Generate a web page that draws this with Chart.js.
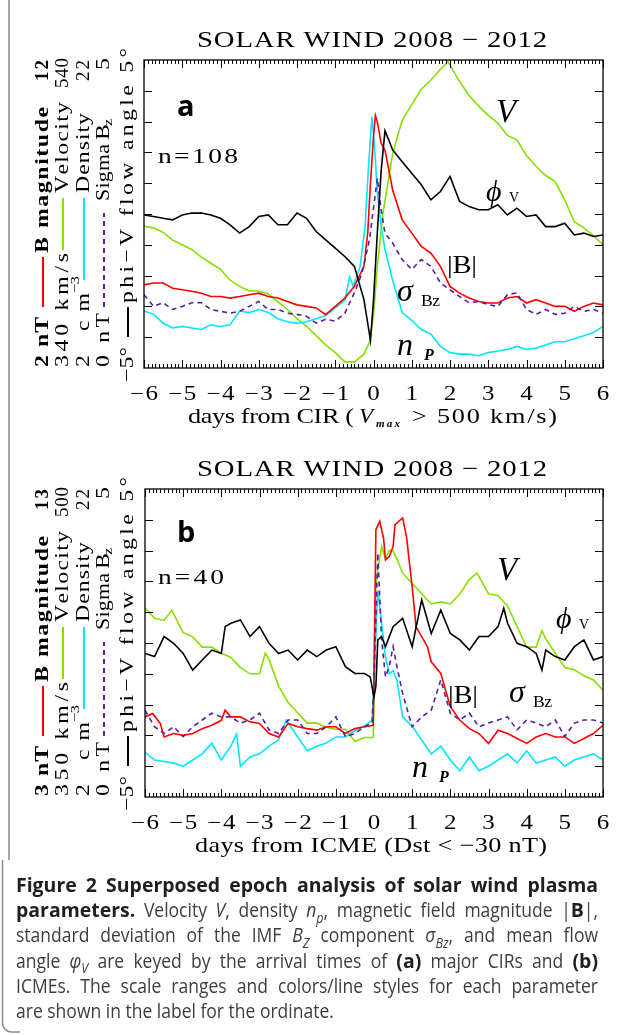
<!DOCTYPE html>
<html><head><meta charset="utf-8">
<script src="https://cdn.jsdelivr.net/npm/chart.js@4.4.1/dist/chart.umd.min.js"></script>
<style>
html,body{margin:0;padding:0;background:#fff;}
#wrap{position:relative;width:630px;height:1035px;overflow:hidden;background:#fff;}
canvas{position:absolute;left:0;}
</style></head><body>
<div id="wrap">
<canvas id="cA" width="630" height="429" style="top:0"></canvas>
<canvas id="cB" width="630" height="431" style="top:429px"></canvas>
<canvas id="cC" width="630" height="175" style="top:860px"></canvas>
</div>
<script>
// ---------------- DATA ----------------
const dayTicks = [-6,-5,-4,-3,-2,-1,0,1,2,3,4,5,6];

// Panel a : CIRs
const cirPhiDays = [-6,-5.75,-5.5,-5.25,-5,-4.75,-4.5,-4.25,-4,-3.75,-3.5,-3.25,-3,-2.75,-2.5,-2.25,-2,-1.75,-1.5,-1.25,-1,-0.75,-0.5,-0.25,-0.08,0,0.1,0.2,0.3,0.4,0.5,0.75,1,1.25,1.5,1.75,2,2.25,2.5,2.75,3,3.25,3.5,3.75,4,4.25,4.5,4.75,5,5.25,5.5,5.75,6];
const cirPhi = [-0.03,-0.08,-0.14,-0.19,-0.03,0.03,0.03,-0.03,-0.14,-0.35,-0.62,-0.41,-0.08,-0.03,-0.35,-0.35,0.03,-0.14,-0.57,-0.84,-1.11,-1.38,-1.7,-2.78,-4.1,-2.8,-0.6,1.4,2.7,2.4,2.08,1.7,1.32,0.95,0.46,0.73,1.22,0.41,0.24,0.14,0.14,0.3,-0.03,0.19,-0.08,-0.03,-0.41,-0.41,-0.3,-0.68,-0.62,-0.73,-0.68];
const cirVDays = [-6,-5.75,-5.5,-5.25,-5,-4.75,-4.5,-4.25,-4,-3.75,-3.5,-3.25,-3,-2.75,-2.5,-2.25,-2,-1.75,-1.5,-1.25,-1,-0.75,-0.5,-0.25,-0.1,0,0.1,0.25,0.5,0.75,1,1.25,1.5,1.75,1.95,2.25,2.5,2.75,3,3.25,3.5,3.75,4,4.25,4.5,4.75,5,5.25,5.5,5.75,6];
const cirV = [432,431,428,423,420,417,412,408,404,397,393,390,390,388,383,378,372,367,361,355,350,344,344,349,357,374,406,441,479,501,511,521,527,534,539,526,517,510,504,499,491,488,478,471,465,461,449,435,431,426,420];
const cirBDays = [-6,-5.75,-5.5,-5.25,-5,-4.75,-4.5,-4.25,-4,-3.75,-3.5,-3.25,-3,-2.75,-2.5,-2.25,-2,-1.75,-1.5,-1.25,-1,-0.75,-0.5,-0.25,-0.15,-0.08,0,0.05,0.1,0.2,0.3,0.4,0.5,0.75,1,1.25,1.5,1.75,2,2.25,2.5,2.75,3,3.25,3.5,3.75,4,4.25,4.5,4.75,5,5.25,5.5,5.75,6];
const cirB = [4.7,4.76,4.76,4.59,4.54,4.49,4.43,4.32,4.32,4.27,4.32,4.38,4.43,4.32,4.27,4.16,4.05,4.0,3.95,3.73,4.0,4.27,4.65,5.3,6.4,8.0,9.5,10.2,10.0,9.3,9.08,8.43,7.78,6.81,6.38,5.95,5.73,5.3,4.65,4.43,4.27,4.16,4.11,4.11,4.27,4.32,4.11,4.22,4.11,4.0,4.0,3.84,4.0,4.11,4.05];
const cirNDays = [-6,-5.75,-5.5,-5.25,-5,-4.75,-4.5,-4.25,-4,-3.75,-3.5,-3.25,-3,-2.75,-2.5,-2.25,-2,-1.75,-1.5,-1.25,-1,-0.75,-0.62,-0.53,-0.35,-0.22,-0.13,-0.04,0,0.05,0.1,0.2,0.3,0.5,0.75,1,1.25,1.5,1.75,2,2.25,2.5,2.75,3,3.25,3.5,3.75,4,4.25,4.5,4.75,5,5.25,5.5,5.75,6];
const cirN = [5.7,5.5,4.9,4.6,4.7,4.6,4.5,4.8,4.7,4.8,5.7,5.6,5.8,5.6,5.2,5.0,4.9,5.0,5.2,5.4,5.9,6.4,7.9,7.3,8.6,11.2,15.1,18.3,17.2,15.5,13.4,11.2,9.7,7.7,5.6,5.1,4.5,4.2,3.4,3.0,2.9,2.9,2.8,3.0,3.1,3.2,3.4,3.2,3.3,3.5,3.7,3.7,3.9,4.1,4.3,4.7];
const cirSDays = [-6,-5.75,-5.5,-5.25,-5,-4.75,-4.5,-4.25,-4,-3.75,-3.5,-3.25,-3,-2.75,-2.5,-2.25,-2,-1.75,-1.5,-1.25,-1,-0.75,-0.5,-0.3,-0.1,0,0.1,0.2,0.3,0.5,0.75,1,1.25,1.5,1.75,2,2.25,2.5,2.75,3,3.25,3.5,3.75,4,4.25,4.5,4.75,5,5.25,5.5,5.75,6];
const cirS = [1.19,1.0,1.06,0.95,1.0,1.06,1.06,0.95,0.92,0.89,0.92,1.0,1.08,0.95,0.95,0.89,0.87,0.84,0.73,0.79,0.76,0.89,1.22,1.54,2.1,2.6,3.08,2.57,2.19,2.03,1.76,1.6,1.76,1.65,1.38,1.27,1.16,1.06,1.08,1.03,1.0,1.19,1.22,0.95,0.87,0.95,0.87,0.89,1.0,0.92,0.95,0.89];

// Panel b : ICMEs
const icmePhiDays = [-6,-5.75,-5.5,-5.25,-5,-4.75,-4.5,-4.25,-4,-3.9,-3.75,-3.5,-3.25,-3,-2.75,-2.5,-2.25,-2,-1.75,-1.5,-1.25,-1,-0.75,-0.5,-0.25,-0.1,0,0.05,0.1,0.2,0.3,0.5,0.75,1,1.25,1.5,1.75,2,2.25,2.5,2.75,3,3.25,3.4,3.5,3.75,4,4.25,4.4,4.5,4.75,5,5.25,5.5,5.75,6];
const icmePhi = [-0.34,-0.44,0.21,-0.01,-0.34,-0.88,-0.55,-0.23,-0.34,0.53,0.64,0.75,0.21,0.53,-0.01,-0.34,-0.23,-0.55,-0.23,-0.44,-0.23,-0.12,-0.77,-0.99,-0.99,-1.1,-1.75,-1.4,0.1,0.21,-0.12,0.53,0.8,-0.12,1.4,0.31,1.07,0.31,0.1,-0.23,0.21,0.21,0.53,1.13,0.64,-0.01,-0.12,-0.34,-0.88,-0.23,-0.44,-0.55,-0.12,0.1,-0.55,-0.44];
const icmeVDays = [-6,-5.75,-5.5,-5.3,-5,-4.75,-4.5,-4.25,-4,-3.75,-3.5,-3.25,-3,-2.85,-2.75,-2.5,-2.25,-2,-1.75,-1.5,-1.25,-1,-0.75,-0.5,-0.25,-0.02,0.05,0.1,0.2,0.3,0.4,0.5,0.6,0.75,1,1.25,1.5,1.75,2,2.25,2.5,2.7,3,3.25,3.5,3.75,4,4.25,4.4,4.5,4.75,5,5.25,5.5,5.75,6];
const icmeV = [442,437,436,441,430,428,423,423,420,418,413,410,410,420,417,404,396,391,386,386,384,383,383,377,379,379,452,461,472,466,470,470,466,459,454,449,444,445,444,449,456,459,449,448,443,433,423,423,431,427,420,413,412,409,407,402];
const icmeBDays = [-6,-5.8,-5.6,-5.5,-5.25,-5,-4.75,-4.5,-4.25,-4,-3.9,-3.75,-3.5,-3.25,-3,-2.75,-2.5,-2.25,-2,-1.75,-1.5,-1.25,-1,-0.75,-0.5,-0.25,-0.02,0.05,0.15,0.25,0.3,0.4,0.5,0.55,0.75,0.85,1,1.1,1.25,1.4,1.5,1.75,2,2.25,2.5,2.75,3,3.25,3.5,3.75,4,4.25,4.5,4.75,5,5.25,5.5,5.75,6];
const icmeB = [5.6,5.71,5.39,4.95,5.06,5.0,5.06,5.22,5.33,5.49,5.82,5.6,5.6,5.44,5.39,5.06,4.95,5.39,5.28,5.22,5.17,5.28,5.28,5.06,5.22,5.28,5.33,11.68,11.95,11.41,10.7,10.81,11.13,11.84,12.06,11.46,9.83,8.53,8.21,7.88,7.39,7.01,5.93,5.49,5.22,5.06,4.74,5.17,5.06,4.9,4.74,4.95,5.06,4.95,4.95,4.74,4.9,5.06,5.33];
const icmeNDays = [-6,-5.75,-5.5,-5.25,-5,-4.75,-4.5,-4.25,-4,-3.75,-3.6,-3.5,-3.25,-3,-2.75,-2.5,-2.3,-2,-1.75,-1.5,-1.25,-1,-0.75,-0.5,-0.25,-0.05,0,0.1,0.2,0.3,0.4,0.5,0.6,0.75,1,1.25,1.5,1.75,2,2.25,2.5,2.75,3,3.25,3.5,3.75,4,4.25,4.5,4.75,5,5.25,5.5,5.75,6];
const icmeN = [4.9,4.4,4.3,4.2,4.0,4.4,4.8,5.5,4.4,5.3,6.1,4.0,4.6,4.8,5.3,5.7,7.0,5.9,5.0,5.3,5.5,5.9,5.9,6.3,6.6,7.0,9.6,15.4,13.3,11.1,10.0,10.2,9.6,7.2,6.6,5.7,4.8,5.3,4.4,3.7,4.6,3.7,4.0,4.4,4.8,4.2,5.0,4.2,4.4,4.6,4.0,4.4,4.6,4.8,4.4];
const icmeSDays = [-6,-5.75,-5.5,-5.25,-5,-4.75,-4.5,-4.25,-4,-3.75,-3.5,-3.25,-3,-2.75,-2.5,-2.25,-2,-1.75,-1.5,-1.25,-1,-0.75,-0.5,-0.25,-0.05,0,0.1,0.2,0.3,0.4,0.5,0.6,0.75,1,1.25,1.5,1.75,2,2.25,2.5,2.75,3,3.25,3.5,3.75,4,4.25,4.5,4.75,5,5.25,5.5,5.75,6];
const icmeS = [1.41,1.14,1.03,1.14,0.98,1.14,1.25,1.36,1.3,1.3,1.2,1.25,1.36,1.09,1.03,1.25,1.25,1.03,1.03,1.14,1.3,0.98,1.03,1.14,1.2,1.9,3.96,2.55,1.95,2.12,2.44,2.12,1.68,1.14,1.3,1.41,1.9,1.36,1.25,1.36,1.14,1.2,1.25,1.3,1.09,1.25,1.2,1.14,1.25,0.98,1.2,1.25,1.25,1.2];

// ordinate ranges (from the axis labels)
const rangeA = {B:[2,12], V:[340,540], N:[2,22], S:[0,5], P:[-5,5]};
const rangeB = {B:[3,13], V:[350,500], N:[2,22], S:[0,5], P:[-5,5]};

// ---------------- STYLE / HELPERS ----------------
const RED='#ff0000', GREEN='#86e000', CYAN='#00e6ff', PURPLE='#5a1f9f', BLACK='#000000';
const SERIF='"Liberation Serif","DejaVu Serif",serif';
const SANS='"Open Sans","Noto Sans",sans-serif';
const HS=1.25; // horizontal glyph stretch to mimic the wide plotting font

function pts(d,v){ return d.map((x,i)=>({x:x,y:v[i]})); }

function txt(ctx, s, x, y, font, opt){
  opt = opt || {};
  const hs = opt.hs || HS;
  ctx.font = font;
  const chars = Array.from(s);
  const ws = chars.map(c=>ctx.measureText(c).width*hs);
  const nat = ws.reduce((a,b)=>a+b,0);
  let ls = opt.ls || 0;
  if (opt.w !== undefined && chars.length>1) ls = (opt.w-nat)/(chars.length-1);
  const total = nat + ls*(chars.length-1);
  let cx = x;
  if (opt.align==='center') cx = x-total/2; else if (opt.align==='right') cx = x-total;
  chars.forEach((c,i)=>{
    ctx.save(); ctx.translate(cx,y); ctx.scale(hs,1); ctx.fillText(c,0,0); ctx.restore();
    cx += ws[i]+ls;
  });
}
function rtxt(ctx, s, xc, y0, y1, font, dx, hs){
  ctx.save(); ctx.translate(xc+(dx||0), y0); ctx.rotate(-Math.PI/2);
  ctx.textBaseline='middle';
  txt(ctx, s, 0, 0, font, {w: y0-y1, hs: hs});
  ctx.restore();
}
function vline(ctx, x, y0, y1, color, dash){
  ctx.save(); ctx.strokeStyle=color; ctx.lineWidth=2; ctx.setLineDash(dash||[]);
  ctx.beginPath(); ctx.moveTo(x,y0); ctx.lineTo(x,y1); ctx.stroke(); ctx.restore();
}
function fmtTick(v){ return v<0 ? '\u2212'+(-v) : String(v); }

function decor(p){ return { id:'decor', afterDraw(chart){
  const ctx=chart.ctx, a=chart.chartArea, xs=chart.scales.x, ys=chart.scales.yP;
  ctx.save();
  ctx.strokeStyle='#8a8a8a'; ctx.lineWidth=1.5;
  ctx.beginPath(); ctx.moveTo(9,0); ctx.lineTo(9,chart.height); ctx.stroke();
  ctx.strokeStyle='#000'; ctx.fillStyle='#000'; ctx.lineWidth=1.3;
  ctx.strokeRect(a.left, a.top, a.right-a.left, a.bottom-a.top);
  ctx.lineWidth=1;
  ctx.beginPath();
  for (let i=-60;i<=60;i++){
    const px=Math.round(xs.getPixelForValue(i/10))+0.5, len=(i%10===0)?8:4;
    ctx.moveTo(px,a.bottom); ctx.lineTo(px,a.bottom-len);
    ctx.moveTo(px,a.top); ctx.lineTo(px,a.top+len);
  }
  for (let v=-4; v<=4; v++){
    const py=Math.round(ys.getPixelForValue(v))+0.5;
    ctx.moveTo(a.left,py); ctx.lineTo(a.left+8,py);
    ctx.moveTo(a.right,py); ctx.lineTo(a.right-8,py);
  }
  ctx.stroke();
  ctx.textBaseline='alphabetic';
  dayTicks.forEach(t=>txt(ctx, fmtTick(t), xs.getPixelForValue(t), a.bottom+32, '20px '+SERIF, {ls:1.5, align:'center'}));
  txt(ctx, 'SOLAR WIND 2008 \u2212 2012', 197, 47, '23px '+SERIF, {w:350});
  if (p.id==='a'){
    txt(ctx, 'days from CIR (', 188, 423, '21px '+SERIF, {w:166});
    txt(ctx, 'V', 359, 423, 'italic 21px '+SERIF, {hs:1.1});
    txt(ctx, 'max', 376, 427, 'italic bold 11px '+SERIF, {w:24, hs:1});
    txt(ctx, '> 500 km/s)', 412, 423, '21px '+SERIF, {w:145});
  } else {
    txt(ctx, 'days from ICME (Dst < \u221230 nT)', 195, 423, '21px '+SERIF, {w:352});
  }
  txt(ctx, p.n, 158, p.nY, '22px '+SERIF, {w:p.nW});
  ctx.font='bold 29px '+SANS; ctx.fillText(p.id, 177, p.letterY);
  const an=p.ann;
  txt(ctx,'V',an.V[0],an.V[1],'italic 33px '+SERIF,{hs:1});
  txt(ctx,'\u03D5',an.phi[0],an.phi[1],'italic 30px '+SERIF,{hs:1});
  txt(ctx,'V',an.phi[0]+23,an.phi[1]+1,'14px '+SERIF,{hs:1});
  txt(ctx,'|B|',an.B[0],an.B[1],'26px '+SERIF,{w:30,hs:1.1});
  txt(ctx,'\u03C3',an.sig[0],an.sig[1],'italic 32px '+SERIF,{hs:1});
  txt(ctx,'Bz',an.sig[0]+24,an.sig[1]+5,'16px '+SERIF,{w:19,hs:1.1});
  txt(ctx,'n',an.np[0],an.np[1],'italic 32px '+SERIF,{hs:1});
  txt(ctx,'P',an.np[0]+27,an.np[1]+5,'italic bold 16px '+SERIF,{hs:1});
  // rotated ordinate labels
  const F='19px '+SERIF, FB='bold 19px '+SERIF;
  rtxt(ctx, p.bMin, 43, 367, 317, FB);
  vline(ctx, 43, 307, 257, RED);
  rtxt(ctx, 'B magnitude', 43, 253, 107, FB);
  rtxt(ctx, p.bMax, 43, 81, 60, FB, 0, 1.0);
  rtxt(ctx, p.vMin, 63, 367, 253, F);
  vline(ctx, 63, 250, 198, GREEN);
  rtxt(ctx, 'Velocity', 63, 193, 102, F);
  rtxt(ctx, p.vMax, 63, 88, 58, F, 0, 1.0);
  rtxt(ctx, '2 cm', 84, 367, 293, F);
  rtxt(ctx, '\u22123', 84, 293, 276, '13px '+SERIF, -8);
  vline(ctx, 84, 280, 198, CYAN);
  rtxt(ctx, 'Density', 84, 193, 113, F);
  rtxt(ctx, '22', 84, 81, 60, F, 0, 1.0);
  rtxt(ctx, '0 nT', 104, 367, 313, F);
  vline(ctx, 104, 307, 213, PURPLE, [5,4]);
  rtxt(ctx, 'Sigma', 104, 201, 144, F, 0, 1.15);
  rtxt(ctx, 'B', 104, 140, 128, F);
  rtxt(ctx, 'z', 104, 126, 119, '13px '+SERIF, 5);
  rtxt(ctx, '5', 104, 70, 58, F);
  rtxt(ctx, '\u22125\u00B0', 128, 382, 347, F);
  vline(ctx, 128, 337, 307, BLACK);
  rtxt(ctx, 'phi\u2212V flow angle 5\u00B0', 128, 303, 48, F);
  ctx.restore();
}};}

function ds(d,v,color,axis,dash){
  return {data:pts(d,v), borderColor:color, borderWidth:1.6, borderDash:dash||[], yAxisID:axis,
          pointRadius:0, tension:0, fill:false};
}

function makeChart(id, h, left, series, range, p){
  return new Chart(document.getElementById(id), {
    type:'line',
    data:{datasets:[
      ds(series.pD, series.p, BLACK, 'yP'),
      ds(series.sD, series.s, PURPLE, 'yS', [5,4]),
      ds(series.bD, series.b, RED, 'yB'),
      ds(series.nD, series.n, CYAN, 'yN'),
      ds(series.vD, series.v, GREEN, 'yV')
    ]},
    options:{
      responsive:false, animation:false, devicePixelRatio:1,
      layout:{padding:{left:left, right:27, top:60, bottom:h-368}},
      plugins:{legend:{display:false}, tooltip:{enabled:false}},
      scales:{
        x:{type:'linear', min:-6, max:6, display:false},
        yP:{min:range.P[0], max:range.P[1], display:false},
        yB:{min:range.B[0], max:range.B[1], display:false},
        yV:{min:range.V[0], max:range.V[1], display:false},
        yN:{min:range.N[0], max:range.N[1], display:false},
        yS:{min:range.S[0], max:range.S[1], display:false}
      }
    },
    plugins:[decor(p)]
  });
}

makeChart('cA', 429, 144,
  {pD:cirPhiDays,p:cirPhi,sD:cirSDays,s:cirS,bD:cirBDays,b:cirB,nD:cirNDays,n:cirN,vD:cirVDays,v:cirV},
  rangeA,
  {id:'a', n:'n=108', nY:163, nW:80, letterY:116, bMin:'2 nT', bMax:'12', vMin:'340 km/s', vMax:'540',
   ann:{V:[496,122], phi:[486,201], B:[447,273], sig:[397,301], np:[397,355]}});

makeChart('cB', 431, 145,
  {pD:icmePhiDays,p:icmePhi,sD:icmeSDays,s:icmeS,bD:icmeBDays,b:icmeB,nD:icmeNDays,n:icmeN,vD:icmeVDays,v:icmeV},
  rangeB,
  {id:'b', n:'n=40', nY:155, nW:66, letterY:113, bMin:'3 nT', bMax:'13', vMin:'350 km/s', vMax:'500',
   ann:{V:[497,151], phi:[556,199], B:[448,274], sig:[509,273], np:[412,348]}});

// ---------------- CAPTION ----------------
(function(){
  const c=document.getElementById('cC'), ctx=c.getContext('2d');
  const CX=0.9, CXB=1.0;
  ctx.font='100px '+SANS;
  const w6=ctx.measureText('are shown in the label for the ordinate.').width;
  const fs=100*318/(w6*CX);
  const body='#3d3d3d', dark='#1f1f1f';
  const S={r:{f:fs+'px '+SANS,c:body,dy:0,cx:CX}, b:{f:'bold '+fs+'px '+SANS,c:dark,dy:0,cx:CXB},
           i:{f:'italic '+fs+'px '+SANS,c:body,dy:0,cx:CX}, s:{f:'italic '+(fs*0.72)+'px '+SANS,c:body,dy:fs*0.28,cx:CX}};
  const lines=[
    [['Figure 2 Superposed epoch analysis of solar wind plasma','b']],
    [['parameters.','b'],[' Velocity ','r'],['V','i'],[', density ','r'],['n','i'],['p','s'],[', magnetic field magnitude |','r'],['B','b'],['|,','r']],
    [['standard deviation of the IMF ','r'],['B','i'],['Z','s'],[' component ','r'],['\u03C3','i'],['Bz','s'],[', and mean flow','r']],
    [['angle ','r'],['\u03C6','i'],['V','s'],[' are keyed by the arrival times of ','r'],['(a)','b'],[' major CIRs and ','r'],['(b)','b']],
    [['ICMEs. The scale ranges and colors/line styles for each parameter','r']],
    [['are shown in the label for the ordinate.','r']]
  ];
  const L=16, R=598;
  lines.forEach((ln,k)=>{
    const y=32+k*25.2;
    let nat=0, nsp=0;
    ln.forEach(([t,st])=>{ ctx.font=S[st].f; nat+=ctx.measureText(t).width*S[st].cx; nsp+=(t.match(/ /g)||[]).length; });
    const extra = (k<5 && nsp>0) ? (R-L-nat)/nsp : 0;
    let x=L;
    ln.forEach(([t,st])=>{
      const cx=S[st].cx;
      ctx.font=S[st].f; ctx.fillStyle=S[st].c;
      const parts=t.split(' ');
      parts.forEach((w,j)=>{
        if (w.length){
          ctx.save(); ctx.translate(x,y+S[st].dy); ctx.scale(cx,1); ctx.fillText(w,0,0); ctx.restore();
          x+=ctx.measureText(w).width*cx;
        }
        if (j<parts.length-1){ x+=ctx.measureText(' ').width*cx+extra; }
      });
    });
  });
  ctx.strokeStyle='#8a8a8a'; ctx.lineWidth=1.5;
  ctx.beginPath(); ctx.moveTo(2.5,0); ctx.lineTo(2.5,163); ctx.arcTo(2.5,172,12,172,9); ctx.lineTo(20,172); ctx.stroke();
})();
</script>
</body></html>
